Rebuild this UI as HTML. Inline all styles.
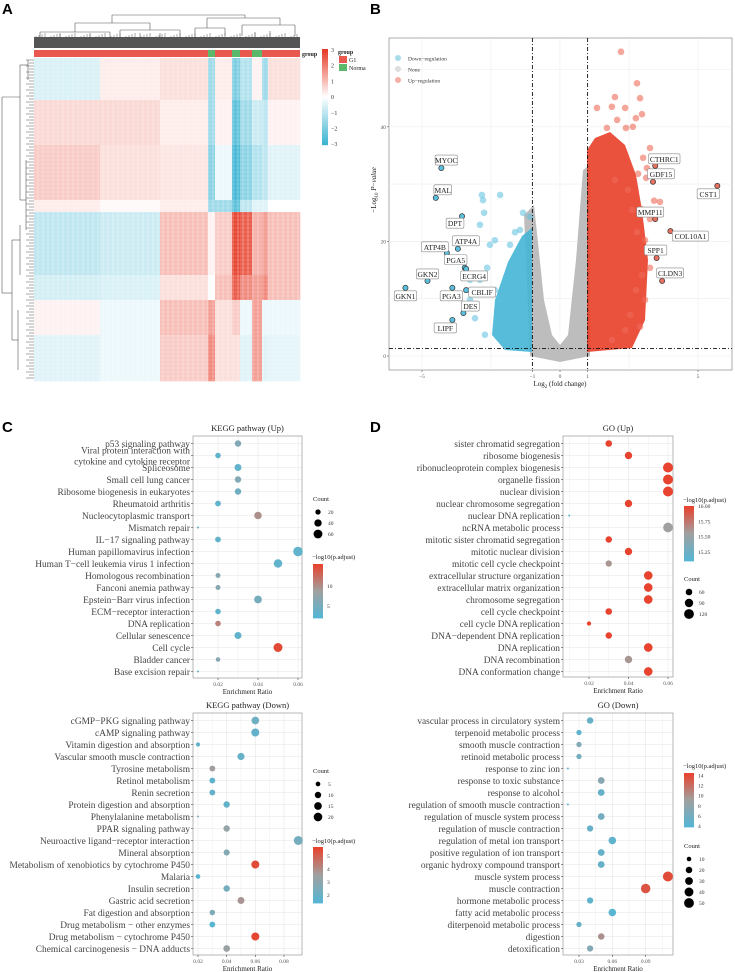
<!DOCTYPE html>
<html><head><meta charset="utf-8">
<style>
html,body{margin:0;padding:0;background:#fff;}
svg{display:block;font-family:"Liberation Serif",serif;}
.pl{font-family:"Liberation Sans",sans-serif;font-weight:bold;font-size:15px;fill:#000;}
</style></head>
<body>
<svg id="fig" width="735" height="972" viewBox="0 0 735 972" xmlns="http://www.w3.org/2000/svg">
<text class="pl" x="2" y="14">A</text>
<text class="pl" x="370" y="14">B</text>
<text class="pl" x="2" y="432">C</text>
<text class="pl" x="370" y="432">D</text>
<g id="heat"></g>
<g id="volc"></g>
<g id="dots"></g>
</svg>
<script>
// ===== Heatmap data =====
const heatColEdges = [34,100,160,208,215,232,240,252,262,268,300];
const heatRowEdges = [58,100,145,200,212,275,300,335,381];
const heatValues = [
 [-0.6,0.3,0.5,-1.5,0.3,-2.0,-1.2,0.2,-1.5,0.5],
 [0.6,0.6,0.3,-1.5,0.2,-2.5,-1.5,-0.8,-1.0,0.2],
 [0.8,0.5,0.4,-1.8,-0.3,-2.8,-1.8,-1.2,-1.0,-0.5],
 [0.3,0.1,0.3,-1.5,-1.5,-2.5,-1.0,-0.5,-0.5,0.0],
 [-1.0,-0.8,1.0,0.2,0.8,2.8,2.5,1.2,1.5,1.0],
 [-0.7,-0.6,0.5,0.0,1.0,2.5,1.8,1.5,1.8,1.0],
 [0.2,-0.3,1.0,1.5,0.5,0.8,-0.3,1.5,-0.3,-0.3],
 [-0.5,-0.3,0.8,1.8,0.5,0.5,-0.5,1.5,-0.5,-0.4]
];
const heatGroups = ['G1','G1','G1','Normal','G1','Normal','G1','Normal','G1','G1'];
const heatTicks = [3,2,1,0,-1,-2,-3];

// ===== Volcano data =====
const upX = [2.21,2.79,1.99,2.90,1.34,1.88,2.36,2.97,2.75,2.07,1.70,2.39,2.64,3.26,3.01,3.15,2.83,3.12,3.41,2.93,3.26,2.79,3.08,3.33,3.26,2.97,2.75,3.08,2.54,2.36,1.88,2.90,2.61,2.46,1.99,3.62];
const upY = [53.1,47.6,45.2,45.0,43.3,43.5,43.3,42.2,41.5,41.2,39.8,39.8,40.0,36.3,34.6,32.8,31.8,31.1,27.1,25.7,23.9,21.6,20.2,18.8,15.4,14.1,11.5,9.8,7.2,4.5,2.8,5.1,25.5,29.0,30.7,26.9];
const downX = [-2.83,-2.17,-2.79,-2.75,-2.90,-1.34,-1.09,-1.45,-1.63,-2.36,-2.54,-1.81,-2.64,-2.90,-2.36,-3.26,-3.08,-2.72,-2.17,-3.26];
const downY = [28.1,28.1,27.2,25.0,22.9,25.0,24.3,22.0,21.6,20.2,19.4,19.4,15.4,13.3,11.5,9.8,6.6,3.7,9.8,13.3];
const geneNames = ['MYOC','MAL','DPT','ATP4A','ATP4B','PGA5','ECRG4','GKN2','GKN1','PGA3','CBLIF','DES','LIPF','CTHRC1','GDF15','CST1','MMP11','COL10A1','SPP1','CLDN3'];
const geneX = [-4.3,-4.5,-3.55,-3.7,-4.1,-3.45,-3.4,-4.8,-5.6,-3.9,-3.4,-3.5,-3.9,3.45,3.37,5.7,3.45,4.0,3.5,3.7];
const geneY = [32.8,27.6,24.4,18.7,18.0,15.4,15.2,13.1,11.9,11.9,11.5,7.5,6.3,33.2,30.4,29.7,23.9,21.8,17.1,13.1];
const geneLabelDx = [5,7,-7,8,-12,-9,8,0,0,-1,16,7,-7,9,8,-9,-5,20,-1,8];
const geneLabelDy = [-8,-8,7,-8,-6,-8,7,-7,8,8,2,-7,8,-7,-8,8,-7,5,-8,-8];
const volXTicks = [-5,-1,0,1,5];
const volYTicks = [0,20,40];

// ===== KEGG Up =====
const keggUpTerms = ['p53 signaling pathway','Viral protein interaction with\ncytokine and cytokine receptor','Spliceosome','Small cell lung cancer','Ribosome biogenesis in eukaryotes','Rheumatoid arthritis','Nucleocytoplasmic transport','Mismatch repair','IL\u221217 signaling pathway','Human papillomavirus infection','Human T\u2212cell leukemia virus 1 infection','Homologous recombination','Fanconi anemia pathway','Epstein\u2212Barr virus infection','ECM\u2212receptor interaction','DNA replication','Cellular senescence','Cell cycle','Bladder cancer','Base excision repair'];
const keggUpRatio = [0.03,0.02,0.03,0.03,0.03,0.02,0.04,0.01,0.02,0.06,0.05,0.02,0.02,0.04,0.02,0.02,0.03,0.05,0.02,0.01];
const keggUpCount = [30,22,35,30,30,24,42,8,24,72,55,18,18,45,22,22,36,62,15,8];
const keggUpP = [6,3,3,6,4.5,3,10,3,3,3,3,6.5,6.5,5,3,11,3,15,6.5,3];
const keggUpTicks = [0.02,0.04,0.06];

// ===== KEGG Down =====
const keggDnTerms = ['cGMP\u2212PKG signaling pathway','cAMP signaling pathway','Vitamin digestion and absorption','Vascular smooth muscle contraction','Tyrosine metabolism','Retinol metabolism','Renin secretion','Protein digestion and absorption','Phenylalanine metabolism','PPAR signaling pathway','Neuroactive ligand\u2212receptor interaction','Mineral absorption','Metabolism of xenobiotics by cytochrome P450','Malaria','Insulin secretion','Gastric acid secretion','Fat digestion and absorption','Drug metabolism \u2212 other enzymes','Drug metabolism \u2212 cytochrome P450','Chemical carcinogenesis \u2212 DNA adducts'];
const keggDnRatio = [0.06,0.06,0.02,0.05,0.03,0.03,0.03,0.04,0.02,0.04,0.09,0.04,0.06,0.02,0.04,0.05,0.03,0.03,0.06,0.04];
const keggDnCount = [15,17,4,13,8,8,8,10,2,10,22,9,17,5,10,12,7,8,17,11];
const keggDnP = [2.1,1.8,1.8,1.9,3.6,1.7,1.8,1.8,2.5,3.2,2.3,2.7,5.5,1.5,2.3,3.8,2.6,1.5,5.6,3.4];
const keggDnTicks = [0.02,0.04,0.06,0.08];

// ===== GO Up =====
const goUpTerms = ['sister chromatid segregation','ribosome biogenesis','ribonucleoprotein complex biogenesis','organelle fission','nuclear division','nuclear chromosome segregation','nuclear DNA replication','ncRNA metabolic process','mitotic sister chromatid segregation','mitotic nuclear division','mitotic cell cycle checkpoint','extracellular structure organization','extracellular matrix organization','chromosome segregation','cell cycle checkpoint','cell cycle DNA replication','DNA\u2212dependent DNA replication','DNA replication','DNA recombination','DNA conformation change'];
const goUpRatio = [0.03,0.04,0.06,0.06,0.06,0.04,0.01,0.06,0.03,0.04,0.03,0.05,0.05,0.05,0.03,0.02,0.03,0.05,0.04,0.05];
const goUpCount = [60,72,125,125,125,72,28,118,58,72,56,95,95,95,60,36,58,95,72,95];
const goUpP = [16,16,16,16,16,16,15.1,15.55,16,16,15.6,16,16,16,16,16,16,16,15.6,16];
const goUpTicks = [0.02,0.04,0.06];

// ===== GO Down =====
const goDnTerms = ['vascular process in circulatory system','terpenoid metabolic process','smooth muscle contraction','retinoid metabolic process','response to zinc ion','response to toxic substance','response to alcohol','regulation of smooth muscle contraction','regulation of muscle system process','regulation of muscle contraction','regulation of metal ion transport','positive regulation of ion transport','organic hydroxy compound transport','muscle system process','muscle contraction','hormone metabolic process','fatty acid metabolic process','diterpenoid metabolic process','digestion','detoxification'];
const goDnRatio = [0.04,0.03,0.03,0.03,0.02,0.05,0.05,0.02,0.05,0.04,0.06,0.05,0.05,0.11,0.09,0.04,0.06,0.03,0.05,0.04];
const goDnCount = [20,13,13,13,5,22,22,5,22,18,28,22,22,52,46,18,28,13,20,18];
const goDnP = [5,4.5,7,6,4,7.5,5,4,6,5,4.5,5,5,14,13.5,4.5,4,5,10,7];
const goDnTicks = [0.03,0.06,0.09];

const NS='http://www.w3.org/2000/svg';
function mk(tag, attrs, parent){const e=document.createElementNS(NS,tag);for(const k in attrs)e.setAttribute(k,attrs[k]);parent.appendChild(e);return e;}
function lerp(a,b,t){return a+(b-a)*t;}
function rgb(c){return 'rgb('+c.map(v=>Math.round(v)).join(',')+')';}
function gradCol(t){t=Math.max(0,Math.min(1,t));const lo=[86,182,212],mid=[160,160,160],hi=[232,67,46];
 if(t<0.5){const u=t/0.5;return rgb(lo.map((v,i)=>lerp(v,mid[i],u)));}const u=(t-0.5)/0.5;return rgb(mid.map((v,i)=>lerp(v,hi[i],u)));}
function heatCol(v){const t=Math.max(-3,Math.min(3,v))/3;const w=[255,255,255];
 if(t<0){const b=[60,180,210];return rgb(w.map((x,i)=>lerp(x,b[i],-t)));}const r=[230,60,40];return rgb(w.map((x,i)=>lerp(x,r[i],t)));}

// ===== Heatmap =====
(function(){
 const g=document.getElementById('heat');
 const cd=mk('g',{},g);
 
 
 mk('rect',{x:34,y:37,width:266,height:11,fill:'#555'},cd);
 const dl=[[112,15,245,15],[112,15,112,23],[245,15,245,18],[75,23,150,23],[207,18,280,18],[207,18,207,28],[280,18,280,25],[75,23,75,32],[150,23,150,30],[40,32,110,32],[120,30,180,30],[195,28,225,28],[242,25,295,25],[40,32,40,38],[110,32,110,38],[120,30,120,37],[180,30,180,37],[195,28,195,37],[225,28,225,36],[242,25,242,36],[295,25,295,36],[60,34,60,38],[90,34,90,38],[140,33,140,38],[160,33,160,38],[255,32,255,38],[270,31,270,38]];
 dl.forEach(d=>mk('line',{x1:d[0],y1:d[1],x2:d[2],y2:d[3],stroke:'#555','stroke-width':0.6},cd));
 for(let x=36;x<300;x+=3){mk('line',{x1:x,y1:33+((x*13)%5),x2:x,y2:38,stroke:'#555','stroke-width':0.5},cd);}
 for(let j=0;j<heatGroups.length;j++){
  const r=mk('rect',{x:heatColEdges[j],y:50,width:heatColEdges[j+1]-heatColEdges[j],height:7,fill:heatGroups[j]==='G1'?'#E8584E':'#5BB86A'},g);
  
  
 }
 mk('text',{x:302,y:56,'font-size':6,'font-weight':'bold',fill:'#222'},g).textContent='group';
 for(let i=0;i<heatValues.length;i++)for(let j=0;j<heatValues[i].length;j++){
  const c=mk('rect',{x:heatColEdges[j],y:heatRowEdges[i],width:heatColEdges[j+1]-heatColEdges[j]+0.3,height:heatRowEdges[i+1]-heatRowEdges[i]+0.3,fill:heatCol(heatValues[i][j])},g);
  
  
 }
 for(let x=38;x<300;x+=5){mk('line',{x1:x,y1:58,x2:x,y2:381,stroke:'#fff','stroke-width':1,opacity:0.3},g);}
 for(let y=60;y<381;y+=4){mk('line',{x1:34,y1:y,x2:300,y2:y,stroke:'#fff','stroke-width':0.8,opacity:0.2},g);}
 const rd=mk('g',{},g);
 
 
 const rl=[[2,97,2,293],[2,97,20,97],[2,293,12,293],[20,65,20,200],[12,240,12,340],[20,65,28,65],[20,200,26,200],[12,240,20,240],[12,340,18,340],[18,310,18,370],[20,225,20,275],[26,160,26,230],[28,60,28,80]];
 rl.forEach(d=>mk('line',{x1:d[0],y1:d[1],x2:d[2],y2:d[3],stroke:'#555','stroke-width':0.6},rd));
 for(let y=60;y<380;y+=3){mk('line',{x1:26+((y*7)%6),y1:y,x2:34,y2:y,stroke:'#555','stroke-width':0.5},rd);}
 const lg=mk('g',{},g);
 
 
 for(let k=0;k<48;k++){const v=3-6*k/47;mk('rect',{x:322,y:49+k*2,width:6,height:2.2,fill:heatCol(v)},lg);}
 heatTicks.forEach((t,k)=>{mk('text',{x:331,y:52+k*15.7,'font-size':6,fill:'#333'},lg).textContent=(t<0?'\u2212':'')+Math.abs(t);});
 const gl=mk('g',{},g);
 
 
 mk('text',{x:338,y:54,'font-size':6,'font-weight':'bold',fill:'#222'},gl).textContent='group';
 mk('rect',{x:339,y:56,width:8,height:7,fill:'#E8584E'},gl);
 mk('rect',{x:339,y:64,width:8,height:7,fill:'#5BB86A'},gl);
 mk('text',{x:349,y:62,'font-size':6,fill:'#222'},gl).textContent='G1';
 mk('text',{x:349,y:70,'font-size':6,fill:'#222'},gl).textContent='Norma';
})();

// ===== Volcano =====
(function(){
 const g=document.getElementById('volc');
 const L=389,R=732,T=38,B=370;
 const X=v=>560+v*27.6, Y=v=>356-v*5.73;
 mk('rect',{x:L,y:T,width:R-L,height:B-T,fill:'#fff',stroke:'#777','stroke-width':0.6},g);
 [-5,-2.5,0,2.5,5].forEach(v=>mk('line',{x1:X(v),y1:T,x2:X(v),y2:B,stroke:'#ececec','stroke-width':0.6},g));
 [0,10,20,30,40,50].forEach(v=>mk('line',{x1:L,y1:Y(v),x2:R,y2:Y(v),stroke:'#ececec','stroke-width':0.6},g));
 const gp=mk('path',{d:'M524,215 L534,205 L544,300 L552,335 L560,345 L568,335 L576,260 L583,170 L590,165 L590,356 L560,362 L530,356 Z',fill:'#b9b9b9',opacity:0.95},g);
 
 
 const rp=mk('path',{d:'M587,150 L595,138 L610,132 L625,145 L636,175 L642,210 L648,260 L645,320 L632,348 L587,352 Z',fill:'#E8432E',opacity:0.92},g);
 
 
 const bp=mk('path',{d:'M532,228 L522,236 L508,262 L495,300 L492,335 L505,350 L532,352 Z',fill:'#45B5D6',opacity:0.9},g);
 
 
 upX.forEach((v,i)=>{const c=mk('circle',{cx:X(v),cy:Y(upY[i]),r:3.3,fill:'#EE6A58',opacity:0.6},g);
  
  });
 downX.forEach((v,i)=>{const c=mk('circle',{cx:X(v),cy:Y(downY[i]),r:3.3,fill:'#5BC0DE',opacity:0.55},g);
  
  });
 [-1,1].forEach(v=>mk('line',{x1:X(v),y1:T,x2:X(v),y2:B,stroke:'#111','stroke-width':0.9,'stroke-dasharray':'4,2,1,2'},g));
 mk('line',{x1:L,y1:Y(1.3),x2:R,y2:Y(1.3),stroke:'#111','stroke-width':0.9,'stroke-dasharray':'4,2,1,2'},g);
 geneNames.forEach((n,i)=>{
  const px=X(geneX[i]),py=Y(geneY[i]);
  const up=geneX[i]>0;
  const c=mk('circle',{cx:px,cy:py,r:2.6,fill:up?'#E87060':'#5BC0DE',stroke:'#333','stroke-width':0.7},g);
  
  
  const lx=px+geneLabelDx[i],ly=py+geneLabelDy[i];
  const w=n.length*4.6+4;
  const b=mk('rect',{x:lx-w/2,y:ly-5,width:w,height:10,rx:1.5,fill:'#fff',stroke:'#888','stroke-width':0.6},g);
  
  
  const t=mk('text',{x:lx,y:ly+3,'font-size':7.5,'text-anchor':'middle',fill:'#222'},g);
  t.textContent=n;
  
  
 });
 volXTicks.forEach(v=>{mk('line',{x1:X(v),y1:B,x2:X(v),y2:B+2,stroke:'#555','stroke-width':0.6},g);
  const t=mk('text',{x:X(v),y:B+8,'font-size':5.5,'text-anchor':'middle',fill:'#555'},g);t.textContent=(v<0?'\u2212':'')+Math.abs(v);
  
  });
 volYTicks.forEach(v=>{mk('line',{x1:L-2,y1:Y(v),x2:L,y2:Y(v),stroke:'#555','stroke-width':0.6},g);
  const t=mk('text',{x:L-3,y:Y(v)+2,'font-size':5.5,'text-anchor':'end',fill:'#555'},g);t.textContent=v;
  
  });
 const xt=mk('text',{x:560,y:386,'font-size':7,'text-anchor':'middle',fill:'#222'},g);
 xt.innerHTML='Log<tspan font-size="5" dy="2">2</tspan><tspan dy="-2"> (fold change)</tspan>';
 
 
 const yt=mk('text',{x:0,y:0,'font-size':7,'text-anchor':'middle',fill:'#222',transform:'translate(376,190) rotate(-90)'},g);
 yt.innerHTML='\u2212Log<tspan font-size="5" dy="2">10</tspan><tspan dy="-2"> </tspan><tspan font-style="italic">P</tspan>\u2212<tspan font-style="italic">value</tspan>';
 
 
 const lg=mk('g',{},g);
 
 
 [['Down\u2212regulation','#A8DCEB'],['None','#DDDDDD'],['Up\u2212regulation','#F2B0A5']].forEach((d,k)=>{
  mk('circle',{cx:398,cy:58+k*11,r:3,fill:d[1]},lg);
  mk('text',{x:408,y:60.5+k*11,'font-size':5.5,fill:'#333'},lg).textContent=d[0];});
})();

// ===== Dot plots =====
function dotPlot(o){
 const g=mk('g',{},document.getElementById('dots'));
 
 
 const X=v=>o.p0+(v-o.t0)*o.k;
 mk('rect',{x:o.L,y:o.T,width:o.R-o.L,height:o.B-o.T,fill:'#fff'},g);
 for(let i=0;i<o.ticks.length;i++){
  mk('line',{x1:X(o.ticks[i]),y1:o.T,x2:X(o.ticks[i]),y2:o.B,stroke:'#e6e6e6','stroke-width':0.6},g);
  const half=(o.ticks[1]-o.ticks[0])/2;
  [o.ticks[i]-half,o.ticks[i]+half].forEach(v=>{const x=X(v);if(x>o.L&&x<o.R)mk('line',{x1:x,y1:o.T,x2:x,y2:o.B,stroke:'#f2f2f2','stroke-width':0.5},g);});
 }
 const rowY=i=>o.T+7.5+i*12;
 o.terms.forEach((t,i)=>{mk('line',{x1:o.L,y1:rowY(i),x2:o.R,y2:rowY(i),stroke:'#e6e6e6','stroke-width':0.6},g);});
 mk('rect',{x:o.L,y:o.T,width:o.R-o.L,height:o.B-o.T,fill:'none',stroke:'#888','stroke-width':0.6},g);
 const cmin=Math.min(...o.count),cmax=Math.max(...o.count);
 o.terms.forEach((t,i)=>{
  const y=rowY(i);
  mk('line',{x1:o.L-2,y1:y,x2:o.L,y2:y,stroke:'#444','stroke-width':0.6},g);
  const tx=mk('text',{x:o.L-3,y:y+3.3,'font-size':9.4,'text-anchor':'end',fill:'#444'},g);
  const parts=t.split('\n');
  if(parts.length>1){parts.forEach((p,k)=>{const s=mk('tspan',{x:o.L-3,y:y-2+k*11},tx);s.textContent=p;});}
  else tx.textContent=t;
  
  
  const r=o.rmin+(o.rmax-o.rmin)*Math.sqrt((o.count[i]-cmin)/(cmax-cmin));
  const c=mk('circle',{cx:X(o.ratio[i]),cy:y,r:r,fill:gradCol((o.p[i]-o.pmin)/(o.pmax-o.pmin))},g);
  
  
 });
 o.ticks.forEach(v=>{mk('line',{x1:X(v),y1:o.B,x2:X(v),y2:o.B+2,stroke:'#444','stroke-width':0.6},g);
  const t=mk('text',{x:X(v),y:o.B+8,'font-size':5.5,'text-anchor':'middle',fill:'#555'},g);t.textContent=v.toFixed(2);
  
  });
 const xt=mk('text',{x:(o.L+o.R)/2,y:o.B+16,'font-size':7,'text-anchor':'middle',fill:'#222'},g);
 xt.textContent='Enrichment Ratio';
 
 
 const tt=mk('text',{x:(o.L+o.R)/2,y:o.T-5,'font-size':8.5,'text-anchor':'middle',fill:'#222'},g);
 tt.textContent=o.title;
 
 
 const lx=o.R+11;
 const cl=mk('g',{},g);
 
 
 mk('text',{x:lx,y:o.cy,'font-size':6.5,fill:'#222'},cl).textContent='Count';
 o.cLeg.forEach((v,k)=>{const r=o.rmin+(o.rmax-o.rmin)*Math.sqrt(Math.max(0,(v-cmin)/(cmax-cmin)));
  mk('circle',{cx:lx+5,cy:o.cy+11+k*11,r:r,fill:'#000'},cl);
  mk('text',{x:lx+15,y:o.cy+13+k*11,'font-size':5.5,fill:'#333'},cl).textContent=v;});
 const pl=mk('g',{},g);
 
 
 mk('text',{x:lx-1,y:o.py,'font-size':6.5,fill:'#222'},pl).textContent='\u2212log10(p.adjust)';
 const h=o.pb-o.pt;
 for(let k=0;k<40;k++){mk('rect',{x:lx,y:o.pt+k*h/40,width:10,height:h/40+0.4,fill:gradCol(1-k/39)},pl);}
 o.pLeg.forEach(v=>{const y=o.pt+(1-(v-o.pmin)/(o.pmax-o.pmin))*h;
  mk('text',{x:lx+14,y:y+2,'font-size':5.5,fill:'#333'},pl).textContent=o.pFmt?v.toFixed(2):v;});
}
dotPlot({name:'kegg-up-dotplot',title:'KEGG pathway (Up)',terms:keggUpTerms,ratio:keggUpRatio,count:keggUpCount,p:keggUpP,ticks:keggUpTicks,
 L:193,R:302,T:436,B:678,p0:218,t0:0.02,k:2000,rmin:1,rmax:4.8,pmin:2,pmax:15.5,
 cy:501,cLeg:[20,40,60],py:559,pt:564,pb:618,pLeg:[5,10]});
dotPlot({name:'kegg-down-dotplot',title:'KEGG pathway (Down)',terms:keggDnTerms,ratio:keggDnRatio,count:keggDnCount,p:keggDnP,ticks:keggDnTicks,
 L:193,R:302,T:713,B:955,p0:198,t0:0.02,k:1433,rmin:1,rmax:4.5,pmin:1.4,pmax:5.7,
 cy:773,cLeg:[5,10,15,20],py:843,pt:847,pb:903,pLeg:[2,3,4,5]});
dotPlot({name:'go-up-dotplot',title:'GO (Up)',terms:goUpTerms,ratio:goUpRatio,count:goUpCount,p:goUpP,ticks:goUpTicks,
 L:563,R:673,T:436,B:677,p0:589,t0:0.02,k:1975,rmin:1,rmax:5,pmin:15.1,pmax:16,pFmt:true,
 cy:581,cLeg:[60,90,120],py:502,pt:506,pb:561,pLeg:[15.25,15.5,15.75,16]});
dotPlot({name:'go-down-dotplot',title:'GO (Down)',terms:goDnTerms,ratio:goDnRatio,count:goDnCount,p:goDnP,ticks:goDnTicks,
 L:563,R:673,T:713,B:955,p0:579,t0:0.03,k:1111,rmin:1,rmax:5,pmin:3.8,pmax:14.5,
 cy:848,cLeg:[10,20,30,40,50],py:768,pt:773,pb:827,pLeg:[4,6,8,10,12,14]});
</script>
</body></html>
